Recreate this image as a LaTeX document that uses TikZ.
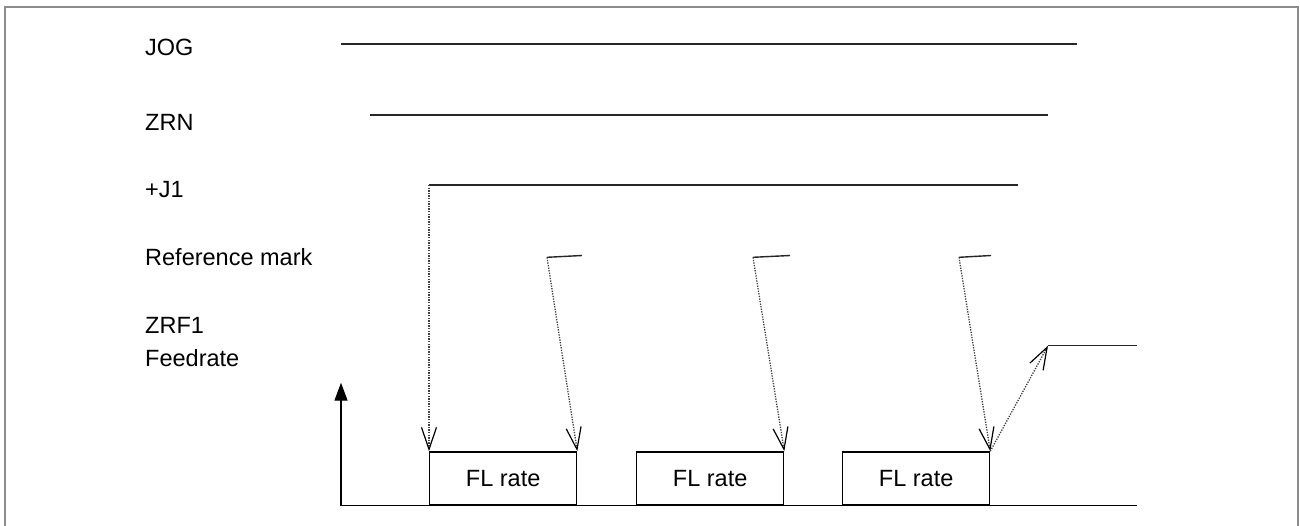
\documentclass[tikz,border=0pt]{standalone}
\usepackage{fontspec}
\setmainfont{Liberation Sans}
\usepackage{xcolor}
\definecolor{framegray}{HTML}{8C8C8C}
\definecolor{sigline}{HTML}{262626}
\definecolor{dotgray}{HTML}{404040}
\usetikzlibrary{arrows.meta, positioning}
\tikzset{
  sigtext/.style={anchor=base west, inner sep=0pt, font=\fontsize{23.5}{28}\selectfont},
  sigwave/.style={line width=1.4pt, color=sigline},
  flbox/.style={rectangle, draw=black, line width=1.3pt, minimum width=147pt, minimum height=53pt,
                anchor=south west, inner sep=0pt, font=\fontsize{23.5}{28}\selectfont},
  darr/.style={-{Straight Barb[length=22pt, width=15pt, line width=1.2pt, color=black]},
               line width=1.3pt, color=dotgray, dash pattern=on 1.3pt off 1.3pt},
  axarr/.style={-{Triangle[length=18pt, width=13pt]}, line width=1.4pt, color=black},
  framebox/.style={line width=2pt, color=framegray},
}

\begin{document}
\begin{tikzpicture}[x=1pt, y=-1pt]
  \useasboundingbox (0,0) rectangle (1300,525);
  \draw[framebox] (5,530) -- (5,7) -- (1298,7) -- (1298,530);
  % signal names
  \foreach \nm/\txt/\yy in {jog/JOG/55, zrn/ZRN/130, jone/+J1/197, rmark/Reference mark/265, zrf/ZRF1/333, feed/Feedrate/366}
    \node[sigtext] (l\nm) at (145,\yy) {\txt};
  % signal levels
  \coordinate (jogA) at (341,44);   \coordinate (jogB) at (1077,44);
  \coordinate (zrnA) at (370,115);  \coordinate (zrnB) at (1048,115);
  \coordinate (joneA) at (429,185); \coordinate (joneB) at (1018,185);
  \coordinate (zrfA) at (1048,345.7); \coordinate (zrfB) at (1137,345.7);
  \draw[sigwave] (jogA) -- (jogB);
  \draw[sigwave] (zrnA) -- (zrnB);
  \draw[sigwave] (joneA) -- (joneB);
  \draw[sigwave] (zrfA) -- (zrfB);
  % feedrate axis
  \coordinate (org) at (341,505.5); \coordinate (axtop) at (341,382.7); \coordinate (baseE) at (1137,505.5);
  \draw[axarr] (org) -- (axtop);
  \draw[line width=1.3pt] (org) -- (baseE);
  \foreach \i/\xx in {1/429,2/636,3/842} \node[flbox] (fl\i) at (\xx,505.5) {FL rate};
  % reference marks
  \foreach \i/\xa/\xb in {1/547/582,2/753/790,3/959/991}{
    \coordinate (rm\i) at (\xa,257.3); \coordinate (rmE\i) at (\xb,255.5);
    \draw[sigwave] (rm\i) -- (rmE\i);
    \draw[darr] (rm\i) -- (fl\i.north east);}
  \draw[darr] (joneA) -- (fl1.north west);
  \draw[darr] (fl3.north east) -- (zrfA);
\end{tikzpicture}
\end{document}
